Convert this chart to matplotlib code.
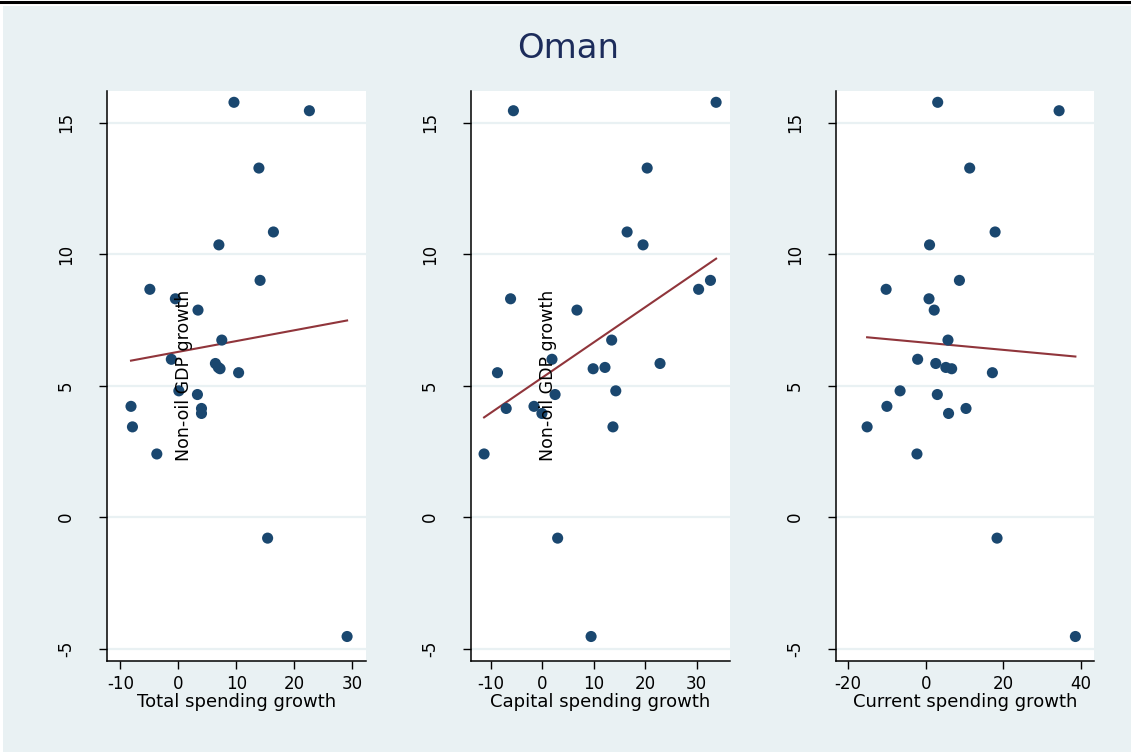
import numpy as np
import matplotlib
matplotlib.use("Agg")
import matplotlib.pyplot as plt
from matplotlib.patches import Rectangle
from matplotlib.lines import Line2D

plt.rcParams['font.family'] = ['DejaVu Sans']
plt.rcParams['axes.unicode_minus'] = False

# Data
nonoil_gdp_growth = [15.77, 15.45, 13.27, 10.84, 10.35, 9.0, 8.66, 8.3, 7.87, 6.73, 6.0,
                     5.84, 5.69, 5.64, 5.49, 4.8, 4.66, 4.21, 4.13, 3.94, 3.43, 2.40, -0.80, -4.54]
total_spending_growth = [9.6, 22.6, 13.9, 16.4, 7.0, 14.1, -4.9, -0.5, 3.4, 7.5, -1.2,
                         6.4, 6.9, 7.2, 10.4, 0.1, 3.3, -8.15, 4.0, 4.0, -7.9, -3.7, 15.4, 29.1]
capital_spending_growth = [33.8, -5.6, 20.4, 16.5, 19.6, 32.7, 30.4, -6.15, 6.75, 13.5, 1.9,
                           22.9, 12.2, 9.9, -8.7, 14.3, 2.5, -1.6, -7.0, -0.06, 13.75, -11.3, 3.0, 9.5]
current_spending_growth = [3.1, 34.4, 11.35, 17.9, 1.0, 8.7, -10.2, 0.86, 2.2, 5.75, -2.07,
                           2.6, 5.2, 6.7, 17.2, -6.6, 3.0, -10.0, 10.4, 5.9, -15.1, -2.25, 18.4, 38.6]

x_series = [total_spending_growth, capital_spending_growth, current_spending_growth]
x_labels = ["Total spending growth", "Capital spending growth", "Current spending growth"]
x_ticks = [[-10, 0, 10, 20, 30], [-10, 0, 10, 20, 30], [-20, 0, 20, 40]]
x_limits = [(-12.34, 32.36), (-13.9, 36.5), (-23.2, 43.4)]
y_ticks = [-5, 0, 5, 10, 15]
y_label = "Non-oil GDP growth"
title = "Oman"

W, H = 1131, 752
BG = "#E9F1F3"
MARKER = "#1A476F"
LINE = "#90353B"

fig = plt.figure(figsize=(W / 100, H / 100), dpi=100)
fig.patch.set_facecolor("white")
fig.add_artist(Rectangle((3 / W, 0), 1 - 3 / W, 1 - 6 / H, transform=fig.transFigure,
                         facecolor=BG, edgecolor="none", zorder=-10))
fig.add_artist(Line2D([0, 1], [1 - 1.5 / H, 1 - 1.5 / H], transform=fig.transFigure,
                      color="black", lw=2.2))

fig.text(568 / W, 1 - 48 / H, title, ha="center", va="center", fontsize=24.5,
         color="#1C2C5B")

panel_lr = [(106.7, 366), (470.7, 730), (835.7, 1094)]
top, bottom = 91, 660.7
label_x = [184, 548, None]

for i, (l, r) in enumerate(panel_lr):
    ax = fig.add_axes([l / W, 1 - bottom / H, (r - l) / W, (bottom - top) / H])
    ax.set_facecolor("white")
    for yt in y_ticks:
        ax.axhline(yt, color=BG, lw=1.6, zorder=0)
    xs = np.array(x_series[i], dtype=float)
    ys = np.array(nonoil_gdp_growth, dtype=float)
    ax.scatter(xs, ys, s=64, color=MARKER, edgecolors="none", zorder=3)
    b, a = np.polyfit(xs, ys, 1)
    xl = np.array([xs.min(), xs.max()])
    ax.plot(xl, a + b * xl, color=LINE, lw=1.5, zorder=2)
    ax.set_xlim(*x_limits[i])
    ax.set_ylim(-5.46, 16.2)
    ax.set_xticks(x_ticks[i])
    ax.set_yticks(y_ticks)
    ax.set_yticklabels([str(v) for v in y_ticks], rotation=90, va="center")
    for s in ["top", "right"]:
        ax.spines[s].set_visible(False)
    for s in ["left", "bottom"]:
        ax.spines[s].set_color("black")
        ax.spines[s].set_linewidth(1.1)
    ax.tick_params(axis="x", direction="out", length=5.5, width=1.0, labelsize=12,
                   colors="black", pad=4.5)
    ax.tick_params(axis="y", direction="out", length=6, width=1.0, labelsize=12,
                   colors="black", pad=17)
    ax.set_xlabel(x_labels[i], fontsize=13, labelpad=0)
    if label_x[i] is not None:
        fig.text(label_x[i] / W, 1 - 375 / H, y_label, rotation=90, ha="center",
                 va="center", fontsize=12.5, color="black", zorder=5)

fig.savefig("out.png", dpi=100, facecolor=fig.get_facecolor())
